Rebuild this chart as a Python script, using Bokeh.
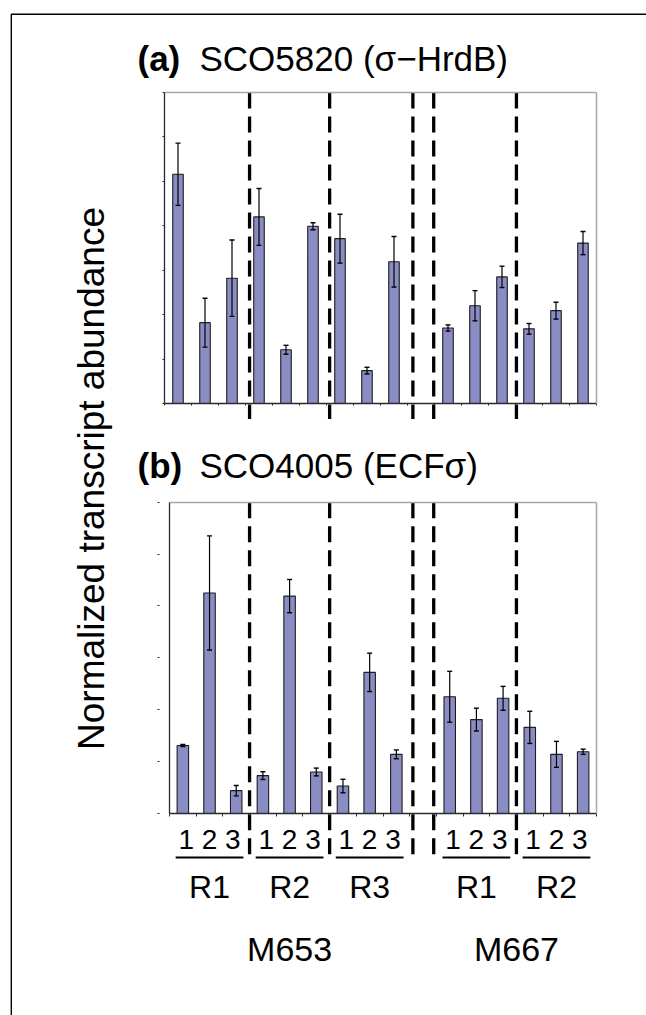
import math
from bokeh.plotting import figure
from bokeh.models import Range1d, LinearAxis, FixedTicker, ColumnDataSource
from bokeh.core.properties import value
from bokeh.embed import file_html
from bokeh.resources import INLINE

# ---------------- data ----------------
strains = ["M653", "M653", "M653", "M667", "M667"]
runs = ["R1", "R2", "R3", "R1", "R2"]
samples = ["1", "2", "3"]

hrdb_mean = [5.16, 1.82, 2.82, 4.20, 1.21, 3.99, 3.71, 0.74, 3.19,
             1.70, 2.20, 2.85, 1.68, 2.09, 3.61]
hrdb_err = [0.70, 0.55, 0.86, 0.64, 0.10, 0.08, 0.55, 0.075, 0.57,
            0.07, 0.34, 0.24, 0.12, 0.19, 0.26]
ecf_mean = [1.31, 4.25, 0.44, 0.73, 4.19, 0.80, 0.53, 2.72, 1.14,
            2.25, 1.81, 2.22, 1.66, 1.14, 1.19]
ecf_err = [0.02, 1.10, 0.10, 0.075, 0.32, 0.075, 0.13, 0.37, 0.085,
           0.49, 0.22, 0.23, 0.31, 0.25, 0.05]

title_a = ("(a)", "SCO5820 (σ−HrdB)")
title_b = ("(b)", "SCO4005 (ECFσ)")
y_title = "Normalized transcript abundance"
a_ticks = list(range(8))   # panel a: 0..7 (unlabelled)
b_ticks = list(range(7))   # panel b: 0..6 (unlabelled)

# ---------------- layout helpers ----------------
W, H = 646, 1015
PX0, PY0 = 0, 0            # page offset of the canvas
BASE_FIX = 0.33            # text baseline correction (fraction of font size)


def lin_range(v0, p0, v1, p1, horizontal):
    k = (v1 - v0) / (p1 - p0)
    if horizontal:
        lo, hi = PX0, PX0 + W
        return Range1d(start=v0 + (lo - p0) * k, end=v0 + (hi - p0) * k)
    lo, hi = PY0 + H, PY0          # start = bottom of frame
    return Range1d(start=v0 + (lo - p0) * k, end=v0 + (hi - p0) * k)


# slot positions: 3 samples per run, one empty slot between strains
slots = []
group_start = []
s = 0
prev = strains[0]
for g, st in enumerate(strains):
    if st != prev:
        s += 1
        prev = st
    group_start.append(s)
    for j in range(len(samples)):
        slots.append(s + j)
    s += len(samples)
n_slots = s
xc = [v + 0.5 for v in slots]
group_center = [g + len(samples) / 2 for g in group_start]
strain_names = []
strain_center = []
for st in dict.fromkeys(strains):
    idx = [group_start[i] for i, x in enumerate(strains) if x == st]
    strain_names.append(st)
    strain_center.append((idx[0] + idx[-1] + len(samples)) / 2)
separators = [3.0, 6.0, 9.12, 9.9, 13.0]

p = figure(width=W, height=H, x_range=Range1d(PX0, PX0 + W), y_range=Range1d(PY0 + H, PY0),
           x_axis_location=None, y_axis_location=None, toolbar_location=None,
           output_backend="svg", min_border=0, outline_line_color=None)
p.grid.visible = False

p.extra_x_ranges = {
    "xa": lin_range(0, 164, n_slots, 596, True),
    "xb": lin_range(0, 169, n_slots, 596, True),
}
p.extra_y_ranges = {
    "ya": lin_range(0, 403, a_ticks[-1], 92, False),
    "yb": lin_range(0, 813, b_ticks[-1], 501.7, False),
}

FONT = value("Liberation Sans")
AX = "#2b2b2b"
GRAY = "#a6a6a6"
BAR = "#8a8cc4"


def axis(side, xr, yr, loc, bounds, ticks, tick_len, line_color=AX, tick_color=AX, lw=1.3):
    ax = LinearAxis(x_range_name=xr, y_range_name=yr, fixed_location=loc, bounds=bounds,
                    ticker=FixedTicker(ticks=ticks, minor_ticks=[]),
                    major_tick_out=0, major_tick_in=-tick_len,
                    minor_tick_out=0, minor_tick_in=0,
                    major_label_text_color=None, major_label_standoff=0,
                    axis_line_color=line_color, axis_line_width=lw,
                    major_tick_line_color=tick_color, major_tick_line_width=1)
    p.add_layout(ax, side)
    return ax


# ---- panel a axes ----
axis("left", "xa", "ya", 0, (0, a_ticks[-1]), a_ticks, 2)
axis("below", "xa", "ya", 0, (0, n_slots), list(range(n_slots + 1)), 2)
axis("above", "xa", "ya", a_ticks[-1], (0, n_slots), [], 0, line_color=GRAY, lw=1.5)
axis("right", "xa", "ya", n_slots, (0, a_ticks[-1]), [], 0, line_color=GRAY, lw=1.5)
# ---- panel b axes ----
axis("left", "xb", "yb", 0, (0, b_ticks[-1]), [], 0)
axis("left", "xb", "yb", -0.37, (0, b_ticks[-1]), b_ticks, 2, line_color=None)
axis("below", "xb", "yb", 0, (0, n_slots), list(range(n_slots + 1)), 3)
axis("above", "xb", "yb", b_ticks[-1], (0, n_slots), [], 0, line_color=GRAY, lw=1.5)
axis("right", "xb", "yb", n_slots, (0, b_ticks[-1]), [], 0, line_color=GRAY, lw=1.5)

# ---- dashed separators ----
p.segment(x0=separators, x1=separators, y0=[a_ticks[-1]] * 5, y1=[-0.35] * 5,
          x_range_name="xb", y_range_name="ya", line_color="black", line_width=3.3,
          line_dash="16 8")
p.segment(x0=separators, x1=separators, y0=[b_ticks[-1]] * 5, y1=[-0.92] * 5,
          x_range_name="xb", y_range_name="yb", line_color="black", line_width=3.3,
          line_dash="16 8")


def bars(xr, yr, mean, err, width):
    src = ColumnDataSource(dict(x=xc, top=mean,
                                lo=[m - e for m, e in zip(mean, err)],
                                hi=[m + e for m, e in zip(mean, err)]))
    p.vbar(x="x", top="top", bottom=0, width=width, source=src, x_range_name=xr,
           y_range_name=yr, fill_color=BAR, line_color="#1e1e1e", line_width=1.1)
    p.segment(x0="x", x1="x", y0="lo", y1="hi", source=src, x_range_name=xr,
              y_range_name=yr, line_color="black", line_width=1.2)
    for key in ("lo", "hi"):
        p.scatter(x="x", y=key, marker="dash", size=5, source=src, x_range_name=xr,
                  y_range_name=yr, line_color="black", line_width=1.4)


bars("xa", "ya", hrdb_mean, hrdb_err, 0.39)
bars("xb", "yb", ecf_mean, ecf_err, 0.43)


def txt(xs, baseline, texts, size, xr="default", align="center", style="normal", angle=0.0):
    n = len(texts)
    if angle:
        xs = [x - BASE_FIX * size for x in xs]
        ys = [baseline] * n
    else:
        ys = [baseline - BASE_FIX * size] * n
    p.text(x=xs, y=ys, text=texts, x_range_name=xr, angle=angle, text_font=FONT,
           text_font_size=value(f"{size}px"), text_font_style=style, text_align=align,
           text_baseline="alphabetic", text_color="black")


# ---- category labels ----
txt(group_center, 848, [" ".join(samples)] * len(group_center), 28, xr="xb")
p.segment(x0=[c - 1.27 for c in group_center], x1=[c + 1.27 for c in group_center],
          y0=[857] * len(group_center), y1=[857] * len(group_center),
          x_range_name="xb", line_color="black", line_width=2)
txt(group_center, 897, runs, 32, xr="xb")
txt(strain_center, 960, strain_names, 34, xr="xb")

# ---- titles ----
txt([137], 70, [title_a[0]], 35, align="left", style="bold")
txt([199], 70, [title_a[1]], 35, align="left")
txt([137], 477, [title_b[0]], 35, align="left", style="bold")
txt([199], 477, [title_b[1]], 35, align="left")

# ---- y title ----
txt([103], 478, [y_title], 37, angle=math.pi / 2)

# ---- outer frame (top & left edges) ----
p.line(x=[10.8, 10.8, 700], y=[1100, 13.8, 13.8], line_color="black", line_width=1.4)

open("out.html", "w").write(file_html(p, INLINE))
